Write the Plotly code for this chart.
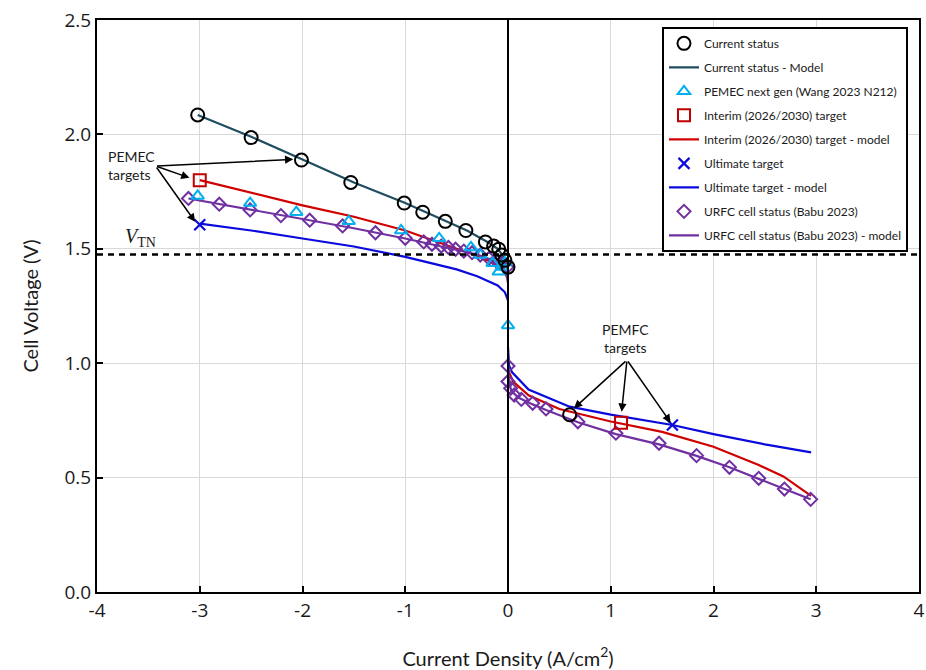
import plotly.graph_objects as go

# ---------------- data ----------------
cur_x = [-3.02, -2.50, -2.01, -1.53, -1.01, -0.83, -0.61, -0.41, -0.22, -0.14, -0.09, -0.06, -0.03, 0.0, 0.60]
cur_y = [2.085, 1.986, 1.888, 1.79, 1.70, 1.66, 1.62, 1.58, 1.53, 1.512, 1.498, 1.473, 1.45, 1.42, 0.775]

cur_mx = [-3.02, -2.5, -2.0, -1.5, -1.0, -0.8, -0.6, -0.4, -0.2, -0.1, -0.05, -0.01, 0.0]
cur_my = [2.085, 1.99, 1.89, 1.79, 1.70, 1.66, 1.62, 1.58, 1.53, 1.50, 1.47, 1.43, 1.40]

pemec_x = [-3.02, -2.51, -2.06, -1.55, -1.04, -0.67, -0.36, -0.27, -0.15, -0.09, -0.06, -0.03, 0.0]
pemec_y = [1.731, 1.70, 1.66, 1.62, 1.58, 1.546, 1.506, 1.473, 1.437, 1.40, 1.42, 1.44, 1.165]

int_x = [-3.0, 1.10]
int_y = [1.80, 0.74]
int_mx = [-3.0, -2.5, -2.0, -1.5, -1.0, -0.5, -0.3, -0.15, -0.05, 0.0, None,
          0.0, 0.05, 0.2, 0.5, 1.0, 1.5, 2.0, 2.44, 2.68, 2.95]
int_my = [1.80, 1.745, 1.69, 1.64, 1.58, 1.50, 1.47, 1.44, 1.41, 1.37, None,
          0.97, 0.92, 0.86, 0.80, 0.745, 0.70, 0.635, 0.555, 0.505, 0.42]

ult_x = [-3.0, 1.60]
ult_y = [1.605, 0.73]
ult_mx = [-3.0, -2.5, -2.0, -1.5, -1.0, -0.5, -0.3, -0.1, -0.03, 0.0, None,
          0.0, 0.01, 0.04, 0.2, 0.6, 1.0, 1.6, 2.0, 2.5, 2.95]
ult_my = [1.61, 1.58, 1.545, 1.51, 1.465, 1.41, 1.38, 1.34, 1.31, 1.275, None,
          1.07, 0.99, 0.96, 0.885, 0.81, 0.775, 0.73, 0.69, 0.645, 0.61]

urfc_x = [-3.11, -2.81, -2.51, -2.21, -1.93, -1.61, -1.29, -1.0, -0.82, -0.74, -0.65, -0.58, -0.51,
          -0.43, -0.35, -0.27, -0.185, -0.12, -0.07, -0.01,
          0.0, 0.0, 0.026, 0.06, 0.13, 0.24, 0.37, 0.68, 1.05, 1.47, 1.835, 2.155, 2.44, 2.69, 2.945]
urfc_y = [1.72, 1.695, 1.67, 1.645, 1.625, 1.60, 1.57, 1.546, 1.53, 1.52, 1.512, 1.506, 1.498,
          1.49, 1.483, 1.473, 1.458, 1.45, 1.437, 1.42,
          0.988, 0.92, 0.89, 0.861, 0.842, 0.825, 0.80, 0.744, 0.694, 0.65, 0.596, 0.545, 0.497, 0.45, 0.405]
urfc_mx = [-3.11, -2.5, -2.0, -1.5, -1.0, -0.7, -0.5, -0.3, -0.15, -0.07, -0.02, 0.0, None,
           0.0, 0.01, 0.03, 0.1, 0.24, 0.37, 0.68, 1.05, 1.47, 1.835, 2.155, 2.44, 2.69, 2.945]
urfc_my = [1.72, 1.67, 1.63, 1.59, 1.545, 1.515, 1.498, 1.475, 1.45, 1.43, 1.40, 1.35, None,
           1.0, 0.93, 0.88, 0.85, 0.82, 0.795, 0.742, 0.69, 0.645, 0.595, 0.545, 0.495, 0.45, 0.405]

v_tn = 1.475
x_ticks = [-4, -3, -2, -1, 0, 1, 2, 3, 4]
y_ticks = [0.0, 0.5, 1.0, 1.5, 2.0, 2.5]

# ---------------- styles ----------------
C_CUR = "#1F4E5F"
C_LB = "#00B0F0"
C_RED = "#D00000"
C_SQ = "#C00000"
C_BLUE = "#0A0ADC"
C_PUR = "#7030A0"
TXT = "#1a1a1a"

fig = go.Figure()
traces = [
    go.Scatter(x=cur_mx, y=cur_my, mode="lines", name="Current status - Model",
               line=dict(color=C_CUR, width=2.2), legendrank=2),
    go.Scatter(x=int_mx, y=int_my, mode="lines", name="Interim (2026/2030) target - model",
               line=dict(color=C_RED, width=2.2), legendrank=5),
    go.Scatter(x=ult_mx, y=ult_my, mode="lines", name="Ultimate target - model",
               line=dict(color=C_BLUE, width=2.2), legendrank=7),
    go.Scatter(x=urfc_mx, y=urfc_my, mode="lines", name="URFC cell status (Babu 2023) - model",
               line=dict(color=C_PUR, width=2.2), legendrank=9),
    go.Scatter(x=urfc_x, y=urfc_y, mode="markers", name="URFC cell status (Babu 2023)",
               marker=dict(symbol="diamond-open", size=10, color=C_PUR, line=dict(width=2)), legendrank=8),
    go.Scatter(x=pemec_x, y=pemec_y, mode="markers", name="PEMEC next gen (Wang 2023 N212)",
               marker=dict(symbol="triangle-up-open", size=11, color=C_LB, line=dict(width=2)), legendrank=3),
    go.Scatter(x=cur_x, y=cur_y, mode="markers", name="Current status",
               marker=dict(symbol="circle-open", size=13, color="black", line=dict(width=2)), legendrank=1),
    go.Scatter(x=int_x, y=int_y, mode="markers", name="Interim (2026/2030) target",
               marker=dict(symbol="square-open", size=12, color=C_SQ, line=dict(width=2)), legendrank=4),
    go.Scatter(x=ult_x, y=ult_y, mode="markers", name="Ultimate target",
               marker=dict(symbol="x-thin-open", size=11, color=C_BLUE, line=dict(width=2.2)), legendrank=6),
]
for i, t in enumerate(traces):
    t.legendgroup = "g%d" % i
    fig.add_trace(t)

# reference lines
fig.add_shape(type="line", x0=0, x1=0, y0=0, y1=2.5, xref="x", yref="y",
              line=dict(color="black", width=2))
fig.add_shape(type="line", x0=-4, x1=4, y0=v_tn, y1=v_tn, xref="x", yref="y",
              line=dict(color="black", width=2.5, dash="6px,5px"))

# annotations
txt_font = dict(family="Lato, Open Sans, sans-serif", size=14, color=TXT)
fig.add_annotation(x=-3.66, y=1.862, text="PEMEC<br>targets", showarrow=False,
                   font=txt_font, align="left", xref="x", yref="y")
fig.add_annotation(x=1.14, y=1.11, text="PEMFC<br>targets", showarrow=False,
                   font=txt_font, align="center", xref="x", yref="y")
arrows = [
    ((-3.43, 1.862), (-2.09, 1.891)),
    ((-3.43, 1.862), (-3.10, 1.81)),
    ((-3.43, 1.862), (-3.045, 1.618)),
    ((1.158, 1.014), (0.642, 0.803)),
    ((1.158, 1.014), (1.106, 0.788)),
    ((1.158, 1.014), (1.583, 0.74)),
]
for (sx, sy), (ex, ey) in arrows:
    fig.add_annotation(x=ex, y=ey, ax=sx, ay=sy, xref="x", yref="y", axref="x", ayref="y",
                       text="", showarrow=True, arrowhead=2, arrowsize=1.1, arrowwidth=1.5,
                       arrowcolor="black")
fig.add_annotation(x=-3.58, y=1.55, text="<i>V</i><sub>TN</sub>", showarrow=False,
                   font=dict(family="Liberation Serif, Times New Roman, serif", size=20, color=TXT),
                   xref="x", yref="y")

axis_common = dict(showline=True, linecolor="black", linewidth=2, mirror=True,
                   ticks="inside", ticklen=6, tickwidth=1.5, tickcolor="black",
                   showgrid=True, gridcolor="#D9D9D9", gridwidth=1, zeroline=False,
                   automargin=False,
                   tickfont=dict(family="Open Sans, sans-serif", size=19, color=TXT))

fig.update_layout(
    width=926, height=670,
    margin=dict(l=97, r=7, t=20, b=78),
    paper_bgcolor="white", plot_bgcolor="white",
    xaxis=dict(range=[-4, 4], tickvals=x_ticks, ticktext=[str(v) for v in x_ticks],
               title=dict(text="Current Density (A/cm<sup>2</sup>)",
                          font=dict(family="Lato, Open Sans, sans-serif", size=20, color=TXT),
                          standoff=30),
               **axis_common),
    yaxis=dict(range=[0, 2.5], tickvals=y_ticks, ticktext=["%.1f" % v for v in y_ticks],
               title=dict(text="Cell Voltage (V)",
                          font=dict(family="Lato, Open Sans, sans-serif", size=20, color=TXT),
                          standoff=20),
               **axis_common),
    legend=dict(x=0.9866, y=0.988, xanchor="right", yanchor="top",
                bgcolor="white", bordercolor="black", borderwidth=2,
                font=dict(family="Lato, Open Sans, sans-serif", size=12, color=TXT),
                traceorder="grouped", tracegroupgap=5, itemwidth=30),
    showlegend=True,
)

fig.write_html("out.html", config={"displayModeBar": False},
               post_script="document.body.style.margin='0';document.body.style.padding='0';")
